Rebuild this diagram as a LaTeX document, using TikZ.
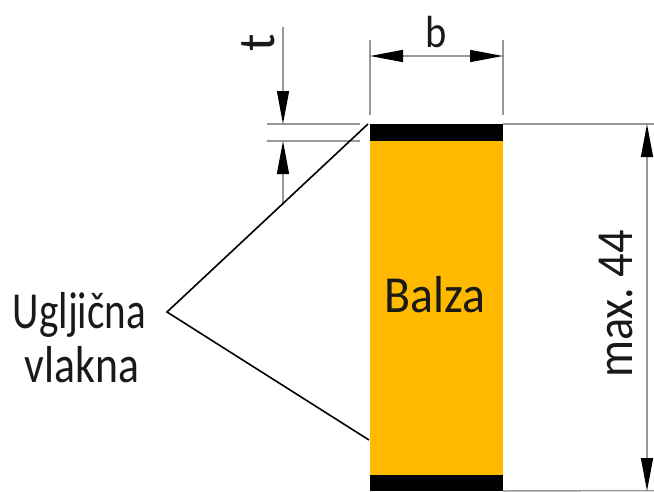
\documentclass[tikz,border=0pt]{standalone}
\usepackage{fontspec}
\usepackage{graphicx}
\setmainfont{Carlito}
\usetikzlibrary{arrows.meta}
\definecolor{balsa}{RGB}{255,186,0}
\newcommand{\narrowtxt}[2]{\scalebox{#1}[1]{#2}}
\tikzset{
  dimline/.style={draw=black!40,line width=1.5pt},
  dimarrow/.style={dimline,{Triangle[length=33pt,width=12pt,black]}-{Triangle[length=33pt,width=12pt,black]}},
  dimtip/.style={dimline,-{Triangle[length=33pt,width=12pt,black]}},
  leader/.style={draw=black,line width=1.6pt},
  label/.style={inner sep=0pt,anchor=base,font=\fontsize{52pt}{56pt}\selectfont,text=black!90},
  block/.style={inner sep=0pt,minimum width=133pt,outer sep=0pt},
}
\begin{document}
\begin{tikzpicture}[x=1pt,y=-1pt]
\useasboundingbox (0,0) rectangle (654,491);
% balza core and carbon layers
\node[block,fill=black,minimum height=17pt] (top) at (436.5,132.5) {};
\node[block,fill=balsa,minimum height=334pt] (core) at (436.5,308) {};
\node[block,fill=black,minimum height=16pt] (bottom) at (436.5,483) {};
\node[label] (balza) at (435,312) {\narrowtxt{0.92}{Balza}};
% dimension b
\coordinate (bL) at (370,56); \coordinate (bR) at (503,56);
\coordinate (bLt) at (370,40); \coordinate (bLb) at (370,115);
\coordinate (bRt) at (503,40); \coordinate (bRb) at (503,115);
\draw[dimline] (bLt) -- (bLb);
\draw[dimline] (bRt) -- (bRb);
\draw[dimarrow] (bL) -- (bR);
\node[label,font=\fontsize{45pt}{50pt}\selectfont] (blabel) at (436,47) {\narrowtxt{0.9}{b}};
% dimension t
\coordinate (tTop) at (283,27); \coordinate (tA) at (283,124);
\coordinate (tBot) at (283,205); \coordinate (tB) at (283,141);
\coordinate (e1) at (267,124); \coordinate (e1r) at (360,124);
\coordinate (e2) at (267,141); \coordinate (e2r) at (360,141);
\draw[dimline] (e1) -- (e1r);
\draw[dimline] (e2) -- (e2r);
\draw[dimtip] (tTop) -- (tA);
\draw[dimtip] (tBot) -- (tB);
\node[label,rotate=90] (tlabel) at (274,43) {t};
% dimension max. 44
\coordinate (mTop) at (647,124); \coordinate (mBot) at (647,491);
\coordinate (rTop) at (654,124); \coordinate (rBot) at (654,490.5);
\draw[dimline] (top.north east) -- (rTop);
\draw[dimline] (bottom.south east) -- (rBot);
\draw[dimarrow] (mTop) -- (mBot);
\node[label,rotate=90] (maxlabel) at (632,304) {\narrowtxt{0.89}{max.~44}};
% leaders
\coordinate (apex) at (167,312);
\coordinate (lTop) at (368,124);
\coordinate (lBot) at (369,440);
\draw[leader] (lTop) -- (apex) -- (lBot);
\node[label] (ug) at (79.5,328) {\narrowtxt{0.79}{Ugljična}};
\node[label] (vl) at (82,382) {\narrowtxt{0.84}{vlakna}};
\end{tikzpicture}
\end{document}
